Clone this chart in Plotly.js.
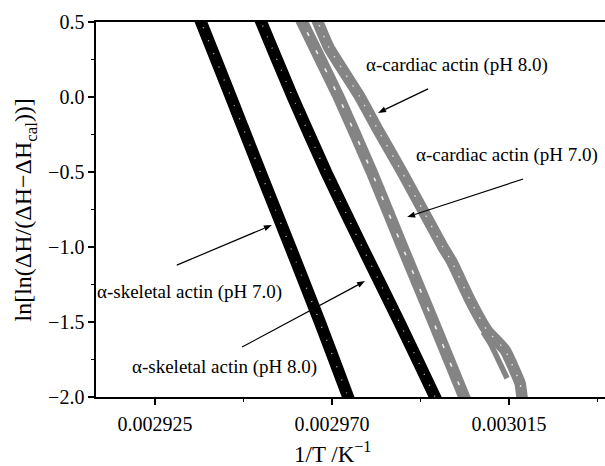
<!DOCTYPE html>
<html>
<head>
<meta charset="utf-8">
<script src="https://cdn.plot.ly/plotly-3.0.1.min.js"></script>
<style>html,body{margin:0;padding:0;background:#fff;overflow:hidden;}#chart{width:605px;height:466px;}</style>
</head>
<body>
<div id="chart"></div>
<script>
// ln[ln(ΔH/(ΔH−ΔHcal))] values (y) against 1/T (x)
const skeletal70_y = [0.55, 0.5, 0.0, -0.5, -1.0, -1.5, -2.0, -2.05];
const skeletal70_x = [0.0029359, 0.0029367, 0.0029443, 0.0029518, 0.0029594, 0.0029669, 0.0029741, 0.0029748];

const skeletal80_y = [0.55, 0.5, 0.0, -0.5, -1.0, -1.5, -2.0, -2.05];
const skeletal80_x = [0.0029512, 0.0029520, 0.0029600, 0.0029685, 0.0029777, 0.0029871, 0.0029962, 0.0029971];

const cardiac70_y = [0.55, 0.5, 0.0, -0.5, -1.0, -1.5, -2.0, -2.05];
const cardiac70_x = [0.0029615, 0.0029624, 0.0029717, 0.0029801, 0.0029879, 0.0029958, 0.0030036, 0.0030044];

const cardiac80_y = [0.55, 0.5, 0.33, 0.0, -0.22, -0.5, -1.0, -1.1, -1.354, -1.555, -1.688, -1.908, -2.0, -2.05];
const cardiac80_x = [0.0029656, 0.0029664, 0.0029692, 0.0029771, 0.0029817, 0.0029878, 0.0029982, 0.0030005, 0.0030051, 0.0030094, 0.0030140, 0.0030178, 0.0030183, 0.0030185];

// inner return branch of the pH 8.0 cardiac curve
const cardiac80b_y = [-1.568, -1.641, -1.875];
const cardiac80b_x = [0.0030084, 0.0030102, 0.0030145];

const seriesLabels = ['α-cardiac actin (pH 8.0)', 'α-cardiac actin (pH 7.0)', 'α-skeletal actin (pH 7.0)', 'α-skeletal actin (pH 8.0)'];

const BLACK = '#000000', GRAY = '#848484';
const FONT = 'Liberation Serif, Times New Roman, serif';

function band(x, y, color, w, name) {
  return {x: x, y: y, type: 'scatter', mode: 'lines', name: name,
          line: {color: color, width: w, shape: 'spline', smoothing: 0.4}, hoverinfo: 'skip'};
}
function speckle(x, y, dash, w, op, name) {
  return {x: x, y: y, type: 'scatter', mode: 'lines', name: name, opacity: op,
          line: {color: '#ffffff', width: w, dash: dash, shape: 'spline', smoothing: 0.4}, hoverinfo: 'skip'};
}

const traces = [
  band(skeletal70_x, skeletal70_y, BLACK, 12, seriesLabels[2]),
  band(skeletal80_x, skeletal80_y, BLACK, 12, seriesLabels[3]),
  band(cardiac70_x, cardiac70_y, GRAY, 12, seriesLabels[1]),
  band(cardiac80_x, cardiac80_y, GRAY, 11.5, seriesLabels[0]),
  band(cardiac80b_x, cardiac80b_y, GRAY, 5.5, seriesLabels[0]),
  speckle(skeletal70_x, skeletal70_y, '1px,13px', 1.4, 0.7, seriesLabels[2]),
  speckle(skeletal80_x, skeletal80_y, '1px,11px', 1.4, 0.7, seriesLabels[3]),
  speckle(cardiac70_x, cardiac70_y, '4px,16px', 1.6, 0.85, seriesLabels[1]),
  speckle(cardiac80_x, cardiac80_y, '1.5px,10px', 1.4, 0.75, seriesLabels[0])
];

const tickFont = {family: FONT, size: 20, color: '#000'};
const annFont = {family: FONT, size: 19, color: '#000'};

// arrow: head at (x, y) in data units, tail offset (dx, dy) in screen pixels (dy down)
function arrowShapes(x, y, dx, dy) {
  const tx = dx, ty = -dy;               // pixel offsets, y up
  const L = Math.hypot(tx, ty), ux = tx / L, uy = ty / L;
  const hl = 8, hw = 3;
  const bx = ux * hl, by = uy * hl, nx = -uy * hw, ny = ux * hw;
  const common = {type: 'path', xref: 'x', yref: 'y', xsizemode: 'pixel', ysizemode: 'pixel',
                  xanchor: x, yanchor: y, layer: 'above'};
  return [
    Object.assign({}, common, {path: `M ${tx.toFixed(1)},${ty.toFixed(1)} L ${bx.toFixed(1)},${by.toFixed(1)}`,
                               line: {color: '#000', width: 1.2}}),
    Object.assign({}, common, {path: `M 0,0 L ${(bx + nx).toFixed(1)},${(by + ny).toFixed(1)} L ${(bx - nx).toFixed(1)},${(by - ny).toFixed(1)} Z`,
                               line: {width: 0}, fillcolor: '#000'})
  ];
}
function label(x, y, t) {
  return {x: x, y: y, xref: 'paper', yref: 'paper', text: t, showarrow: false, font: annFont,
          xanchor: 'center', yanchor: 'middle'};
}

const shapes = [].concat(
  arrowShapes(0.0029817, -0.106, 50, -24),
  arrowShapes(0.0029891, -0.800, 116, -38),
  arrowShapes(0.0029547, -0.854, -95, 40),
  arrowShapes(0.0029784, -1.227, -123, 66)
);

const layout = {
  width: 605, height: 466,
  margin: {l: 96, r: 0, t: 22, b: 69},
  paper_bgcolor: '#fff', plot_bgcolor: '#fff',
  showlegend: false,
  xaxis: {
    range: [0.00291, 0.0030394], tick0: 0.002925, dtick: 0.000045, tickformat: '.6f',
    ticks: 'outside', ticklen: 6, tickwidth: 1.5, tickcolor: '#000', ticklabelstandoff: 2,
    showline: true, linewidth: 1.6, linecolor: '#000', mirror: true,
    showgrid: false, zeroline: false, tickfont: tickFont,
    minor: {dtick: 0.0000225, tick0: 0.002925, ticks: 'outside', ticklen: 3, tickwidth: 1.5, tickcolor: '#000', showgrid: false}
  },
  xaxis2: {
    overlaying: 'x', side: 'top', anchor: 'y',
    range: [0.00291, 0.0030394], tick0: 0.002925, dtick: 0.000045,
    ticks: 'inside', ticklen: 6, tickwidth: 1.5, tickcolor: '#000',
    showline: false, showgrid: false, zeroline: false, showticklabels: false,
    minor: {dtick: 0.0000225, tick0: 0.002925, ticks: 'inside', ticklen: 3, tickwidth: 1.5, tickcolor: '#000', showgrid: false}
  },
  yaxis: {
    range: [-2, 0.5], tick0: 0, dtick: 0.5, tickformat: '.1f',
    ticks: 'outside', ticklen: 6, tickwidth: 1.5, tickcolor: '#000',
    showline: true, linewidth: 1.6, linecolor: '#000', mirror: false,
    showgrid: false, zeroline: false, tickfont: tickFont,
    minor: {dtick: 0.25, tick0: 0, ticks: 'outside', ticklen: 3, tickwidth: 1.5, tickcolor: '#000', showgrid: false}
  },
  yaxis2: {
    overlaying: 'y', side: 'right', anchor: 'x',
    range: [-2, 0.5], tick0: 0, dtick: 0.5,
    ticks: 'inside', ticklen: 6, tickwidth: 1.5, tickcolor: '#000',
    showline: false, showgrid: false, zeroline: false, showticklabels: false,
    minor: {dtick: 0.25, tick0: 0, ticks: 'inside', ticklen: 3, tickwidth: 1.5, tickcolor: '#000', showgrid: false}
  },
  shapes: shapes,
  annotations: [
    label(0.7102, 0.8853, seriesLabels[0]),
    label(0.8075, 0.6453, seriesLabels[1]),
    label(0.1837, 0.28, seriesLabels[2]),
    label(0.2525, 0.08, seriesLabels[3]),
    {xref: 'paper', yref: 'paper', x: 0.4637, y: -0.147, xanchor: 'center', yanchor: 'middle',
     text: '1/T /K<sup>−1</sup>', showarrow: false, font: {family: FONT, size: 23, color: '#000'}},
    {xref: 'paper', yref: 'paper', x: -0.1395, y: 0.5, xanchor: 'center', yanchor: 'middle', textangle: -90,
     text: 'ln[ln(ΔH/(ΔH−ΔH<sub>cal</sub>))]', showarrow: false, font: {family: FONT, size: 24, color: '#000'}}
  ]
};

Plotly.newPlot('chart', traces, layout, {displayModeBar: false, staticPlot: true});
</script>
</body>
</html>
